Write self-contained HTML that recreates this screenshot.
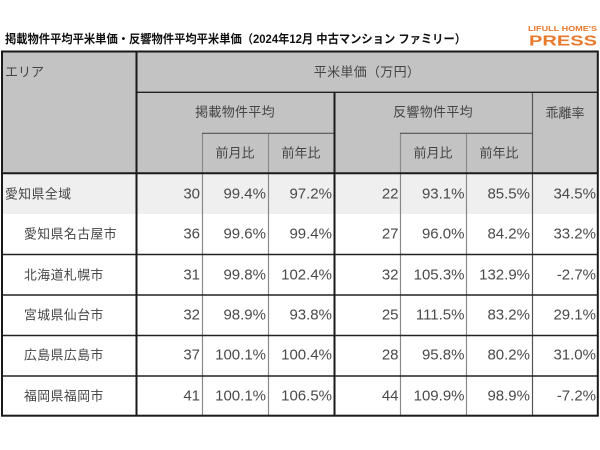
<!DOCTYPE html>
<html><head><meta charset="utf-8"><style>
html,body{margin:0;padding:0;background:#fff;}
svg{display:block;}
</style></head><body>
<svg width="600" height="450" viewBox="0 0 600 450" xmlns="http://www.w3.org/2000/svg">
<rect width="600" height="450" fill="#fff"/>
<!-- title -->
<text x="5" y="39" dominant-baseline="central" font-size="12" font-weight="bold" fill="#111" textLength="461" lengthAdjust="spacingAndGlyphs" style="font-family:'Liberation Sans','Noto Sans CJK JP',sans-serif">掲載物件平均平米単価・反響物件平均平米単価（2024年12月 中古マンション ファミリー）</text>
<!-- logo -->
<text x="528" y="31" font-size="7" font-weight="bold" fill="#e8792d" textLength="69" lengthAdjust="spacingAndGlyphs" style="font-family:'Liberation Sans',sans-serif">LIFULL HOME'S</text>
<text x="529" y="45.5" font-size="14.5" font-weight="bold" fill="#e8792d" textLength="68" lengthAdjust="spacingAndGlyphs" style="font-family:'Liberation Sans',sans-serif">PRESS</text>

<!-- backgrounds -->
<rect x="2" y="51" width="596" height="122" fill="#c3c3c3"/>
<rect x="2" y="173" width="596" height="41" fill="#efefef"/>

<!-- thin gray verticals -->
<g stroke="#8a8a8a" stroke-width="1.2">
<line x1="202.5" y1="133" x2="202.5" y2="416"/>
<line x1="268.5" y1="133" x2="268.5" y2="416"/>
<line x1="400.5" y1="133" x2="400.5" y2="416"/>
<line x1="466.5" y1="133" x2="466.5" y2="416"/>
</g>
<g stroke="#555" stroke-width="1.2">
<line x1="532.5" y1="92" x2="532.5" y2="416"/>
<line x1="202" y1="133.3" x2="334" y2="133.3"/>
<line x1="400" y1="133.3" x2="532" y2="133.3"/>
</g>
<!-- row lines -->
<g stroke="#222" stroke-width="1.4">
<line x1="136" y1="92.3" x2="598" y2="92.3"/>
<line x1="2" y1="254.5" x2="598" y2="254.5"/>
<line x1="2" y1="295" x2="598" y2="295"/>
<line x1="2" y1="335.5" x2="598" y2="335.5"/>
<line x1="2" y1="376" x2="598" y2="376"/>
</g>
<!-- thick lines -->
<g stroke="#1a1a1a" stroke-width="2">
<line x1="2" y1="173.3" x2="598" y2="173.3"/>
<line x1="136.5" y1="51" x2="136.5" y2="416"/>
<line x1="334.5" y1="92" x2="334.5" y2="416"/>
<rect x="2" y="51.5" width="595.8" height="364.2" fill="none"/>
</g>

<!-- header text -->
<g font-size="13" fill="#444" dominant-baseline="central" style="font-family:'Liberation Sans','Noto Sans CJK JP',sans-serif">
<text x="5" y="72">エリア</text>
<text x="367" y="72" text-anchor="middle" letter-spacing="0.3">平米単価（万円）</text>
<text x="235" y="112" text-anchor="middle" letter-spacing="0.3">掲載物件平均</text>
<text x="433" y="112" text-anchor="middle" letter-spacing="0.3">反響物件平均</text>
<text x="565" y="113" text-anchor="middle">乖離率</text>
<text x="235" y="153" text-anchor="middle">前月比</text>
<text x="301" y="153" text-anchor="middle">前年比</text>
<text x="433" y="153" text-anchor="middle">前月比</text>
<text x="499" y="153" text-anchor="middle">前年比</text>
</g>

<!-- row labels -->
<g font-size="12.8" fill="#444" dominant-baseline="central" letter-spacing="0.5" style="font-family:'Liberation Sans','Noto Sans CJK JP',sans-serif">
<text x="5" y="194">愛知県全域</text>
<text x="24" y="234">愛知県名古屋市</text>
<text x="24" y="275">北海道札幌市</text>
<text x="24" y="315">宮城県仙台市</text>
<text x="24" y="355">広島県広島市</text>
<text x="24" y="396">福岡県福岡市</text>
</g>

<!-- numbers -->
<g font-size="15" fill="#4a4a4a" dominant-baseline="central" text-anchor="end" style="font-family:'Liberation Sans',sans-serif">
<text x="200" y="194">30</text><text x="266" y="194">99.4%</text><text x="332" y="194">97.2%</text><text x="398.5" y="194">22</text><text x="464.5" y="194">93.1%</text><text x="530" y="194">85.5%</text><text x="596" y="194">34.5%</text>
<text x="200" y="234">36</text><text x="266" y="234">99.6%</text><text x="332" y="234">99.4%</text><text x="398.5" y="234">27</text><text x="464.5" y="234">96.0%</text><text x="530" y="234">84.2%</text><text x="596" y="234">33.2%</text>
<text x="200" y="275">31</text><text x="266" y="275">99.8%</text><text x="332" y="275">102.4%</text><text x="398.5" y="275">32</text><text x="464.5" y="275">105.3%</text><text x="530" y="275">132.9%</text><text x="596" y="275">-2.7%</text>
<text x="200" y="315">32</text><text x="266" y="315">98.9%</text><text x="332" y="315">93.8%</text><text x="398.5" y="315">25</text><text x="464.5" y="315">111.5%</text><text x="530" y="315">83.2%</text><text x="596" y="315">29.1%</text>
<text x="200" y="355">37</text><text x="266" y="355">100.1%</text><text x="332" y="355">100.4%</text><text x="398.5" y="355">28</text><text x="464.5" y="355">95.8%</text><text x="530" y="355">80.2%</text><text x="596" y="355">31.0%</text>
<text x="200" y="396">41</text><text x="266" y="396">100.1%</text><text x="332" y="396">106.5%</text><text x="398.5" y="396">44</text><text x="464.5" y="396">109.9%</text><text x="530" y="396">98.9%</text><text x="596" y="396">-7.2%</text>
</g>
</svg>
</body></html>
